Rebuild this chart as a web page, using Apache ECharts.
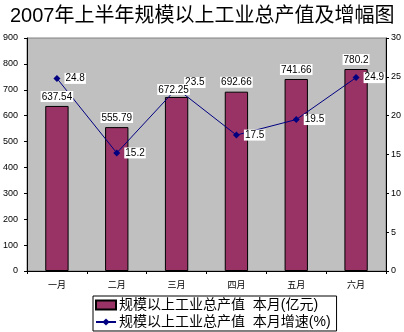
<!DOCTYPE html>
<html>
<head>
<meta charset="utf-8">
<script src="https://cdn.jsdelivr.net/npm/echarts@6/dist/echarts.min.js"></script>
<style>
  html, body { margin: 0; padding: 0; background: #ffffff; }
  #chart { width: 404px; height: 332px; }
</style>
</head>
<body>
<div id="chart"></div>
<script>
// Monthly figures, first half of 2007
const months = ['一月', '二月', '三月', '四月', '五月', '六月'];
const outputValue = [637.54, 555.79, 672.25, 692.66, 741.66, 780.2];   // 亿元
const growthRate = [24.8, 15.2, 23.5, 17.5, 19.5, 24.9];               // %
const leftTicks = [0, 900, 100];   // min, max, interval
const rightTicks = [0, 30, 5];

const barName = '规模以上工业总产值  本月(亿元)';
const lineName = '规模以上工业总产值  本月增速(%)';
const FONT = '"Liberation Sans", "Noto Sans CJK SC", sans-serif';

const chart = echarts.init(document.getElementById('chart'), null, { renderer: 'canvas' });

const valueLabel = {
  show: true,
  color: '#000',
  fontSize: 10,
  fontFamily: FONT,
  backgroundColor: '#ffffff',
  padding: [1, 1, 0, 1]
};

// March labels collide; nudge them apart so both stay readable
const barLabelData = outputValue.map((v, i) =>
  i === 2 ? { value: v, label: { offset: [-3, 2] } } : v);
const lineData = growthRate.map((v, i) =>
  i === 2 ? { value: v, label: { offset: [0, -6] } } : v);

chart.setOption({
  animation: false,
  backgroundColor: '#ffffff',
  textStyle: { fontFamily: FONT },
  title: {
    text: '2007年上半年规模以上工业总产值及增幅图',
    left: 5,
    top: 1,
    textStyle: { fontSize: 20, fontWeight: 'normal', color: '#000', fontFamily: FONT }
  },
  grid: {
    left: 23, right: 16, top: 38, bottom: 61,
    show: true,
    backgroundColor: '#c0c0c0',
    borderColor: '#808080',
    borderWidth: 1
  },
  legend: {
    orient: 'vertical',
    left: 93,
    top: 296,
    padding: [2, 6, 2, 2],
    itemGap: 3,
    itemWidth: 20,
    itemHeight: 9,
    borderColor: '#000',
    borderWidth: 1,
    textStyle: { fontSize: 14, color: '#000', fontFamily: FONT, padding: [0, 0, 0, -2] },
    data: [
      { name: barName, icon: 'rect' },
      { name: lineName }
    ]
  },
  xAxis: {
    type: 'category',
    data: months,
    boundaryGap: true,
    axisLine: { lineStyle: { color: '#000' } },
    axisTick: { show: true, length: 3, lineStyle: { color: '#000' } },
    axisLabel: { fontSize: 9, color: '#000', margin: 10, fontFamily: FONT },
    splitLine: { show: false }
  },
  yAxis: [
    {
      type: 'value',
      min: leftTicks[0], max: leftTicks[1], interval: leftTicks[2],
      axisLine: { show: true, lineStyle: { color: '#000' } },
      axisTick: { show: true, length: 3, lineStyle: { color: '#000' } },
      axisLabel: { fontSize: 9, color: '#000', margin: 9, fontFamily: FONT },
      splitLine: { show: false }
    },
    {
      type: 'value',
      position: 'right',
      min: rightTicks[0], max: rightTicks[1], interval: rightTicks[2],
      axisLine: { show: true, lineStyle: { color: '#000' } },
      axisTick: { show: true, length: 3, lineStyle: { color: '#000' } },
      axisLabel: { fontSize: 9, color: '#000', margin: 5, fontFamily: FONT },
      splitLine: { show: false }
    }
  ],
  series: [
    {
      name: barName,
      type: 'bar',
      data: outputValue,
      barWidth: '39%',
      itemStyle: { color: '#993366', borderColor: '#000', borderWidth: 1 },
      z: 2
    },
    {
      name: lineName,
      type: 'line',
      yAxisIndex: 1,
      data: lineData,
      symbol: 'diamond',
      symbolSize: 7,
      lineStyle: { color: '#000080', width: 1 },
      itemStyle: { color: '#000080' },
      label: Object.assign({}, valueLabel, { position: 'right', distance: 4 }),
      z: 3
    },
    {
      // invisible copy of the bars that carries their value labels above the line
      name: 'barValues',
      type: 'bar',
      data: barLabelData,
      barWidth: '39%',
      barGap: '-100%',
      silent: true,
      itemStyle: { color: 'rgba(0,0,0,0)', borderWidth: 0 },
      label: Object.assign({}, valueLabel, { position: 'top', distance: 4 }),
      z: 4
    }
  ]
});
</script>
</body>
</html>
